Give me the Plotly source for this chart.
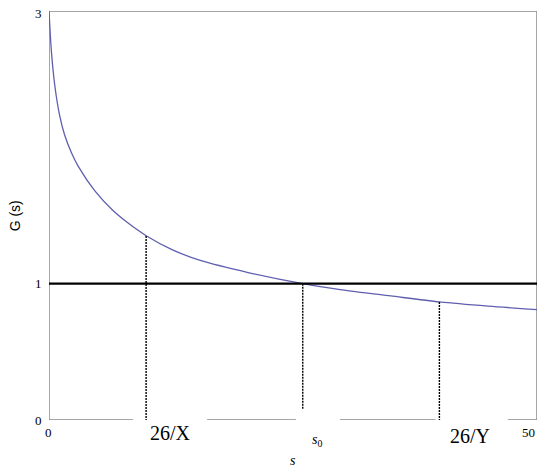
import plotly.graph_objects as go

# curve G(s)
s_vals = [0, 0.25, 0.6, 1.1, 1.6, 2.3, 3, 4.7, 6.5, 8, 10, 12.6, 15.5, 20.5, 26, 30, 35, 40, 45, 50]
g_vals = [3.0, 2.70, 2.45, 2.23, 2.09, 1.96, 1.86, 1.68, 1.54, 1.45, 1.35, 1.25, 1.17, 1.08, 1.0, 0.955, 0.91, 0.866, 0.835, 0.81]

# dotted drop lines: 26/X, s0, 26/Y
drop_s = [9.95, 26.0, 40.0]
drop_top = [1.35, 1.0, 0.866]
drop_low = [0.0, 0.08, 0.0]

y_ticks = [0, 1, 3]

SERIF = "Liberation Serif, Times New Roman, serif"
FRAME = "#8a8a8a"
S_MAX, G_MAX = 50, 3

fig = go.Figure()

fig.add_trace(go.Scatter(
    x=s_vals, y=g_vals, mode="lines", line_shape="spline",
    line=dict(color="#5f5fb0", width=1.3, smoothing=0.8), hoverinfo="skip"))

# horizontal line at G = 1
fig.add_trace(go.Scatter(
    x=[0, S_MAX], y=[1, 1], mode="lines",
    line=dict(color="black", width=2.2), hoverinfo="skip"))

for xs, top, low in zip(drop_s, drop_top, drop_low):
    fig.add_trace(go.Scatter(
        x=[xs, xs], y=[top, low], mode="lines",
        line=dict(color="black", width=1.4, dash="2px,1px"), hoverinfo="skip"))

# frame: left, top, right; bottom with gaps under the labels
frame_segments = [
    (0, 0, 0, 3), (0, 3, 50, 3), (50, 3, 50, 0),
    (0, 0, 8.6, 0), (16.2, 0, 25.3, 0), (29.8, 0, 39.6, 0), (47.0, 0, 50, 0),
]
for x0, y0, x1, y1 in frame_segments:
    fig.add_shape(type="line", x0=x0, y0=y0, x1=x1, y1=y1,
                  line=dict(color=FRAME, width=1.5), layer="below")


# annotations off the axis range get hidden with data refs, so use paper coords
def label(s, g, text, size=13, family=SERIF, xanchor="center", **kw):
    fig.add_annotation(x=s / S_MAX, y=g / G_MAX, xref="paper", yref="paper",
                       text=text, showarrow=False, xanchor=xanchor, yanchor="middle",
                       borderpad=0,
                       font=dict(family=family, size=size, color="black"), **kw)


label(12.4, -0.095, "26/X", size=20)
label(43.1, -0.115, "26/Y", size=20)
label(27.5, -0.15, "<i>s</i><sub>0</sub>", size=14)
label(49.1, -0.095, "50")
label(-0.1, -0.09, "0")
label(25.0, -0.295, "<i>s</i>", size=14)
for t in y_ticks:
    # keep the top label inside the page
    label(-0.6, min(t, 2.985), str(t), xanchor="right")
label(-3.5, 1.5, "G (s)", size=14, family="Liberation Sans, Arial, sans-serif",
      textangle=-90)

# page body keeps an 8px margin, so the figure is drawn 8px smaller
fig.update_layout(
    width=542, height=461,
    margin=dict(l=41, r=13, t=3, b=49),
    paper_bgcolor="white", plot_bgcolor="white",
    showlegend=False,
    xaxis=dict(range=[0, S_MAX], showgrid=False, zeroline=False, showline=False,
               showticklabels=False, ticks="", fixedrange=True),
    yaxis=dict(range=[0, G_MAX], showgrid=False, zeroline=False, showline=False,
               showticklabels=False, ticks="", fixedrange=True),
)

fig.write_html("out.html")
